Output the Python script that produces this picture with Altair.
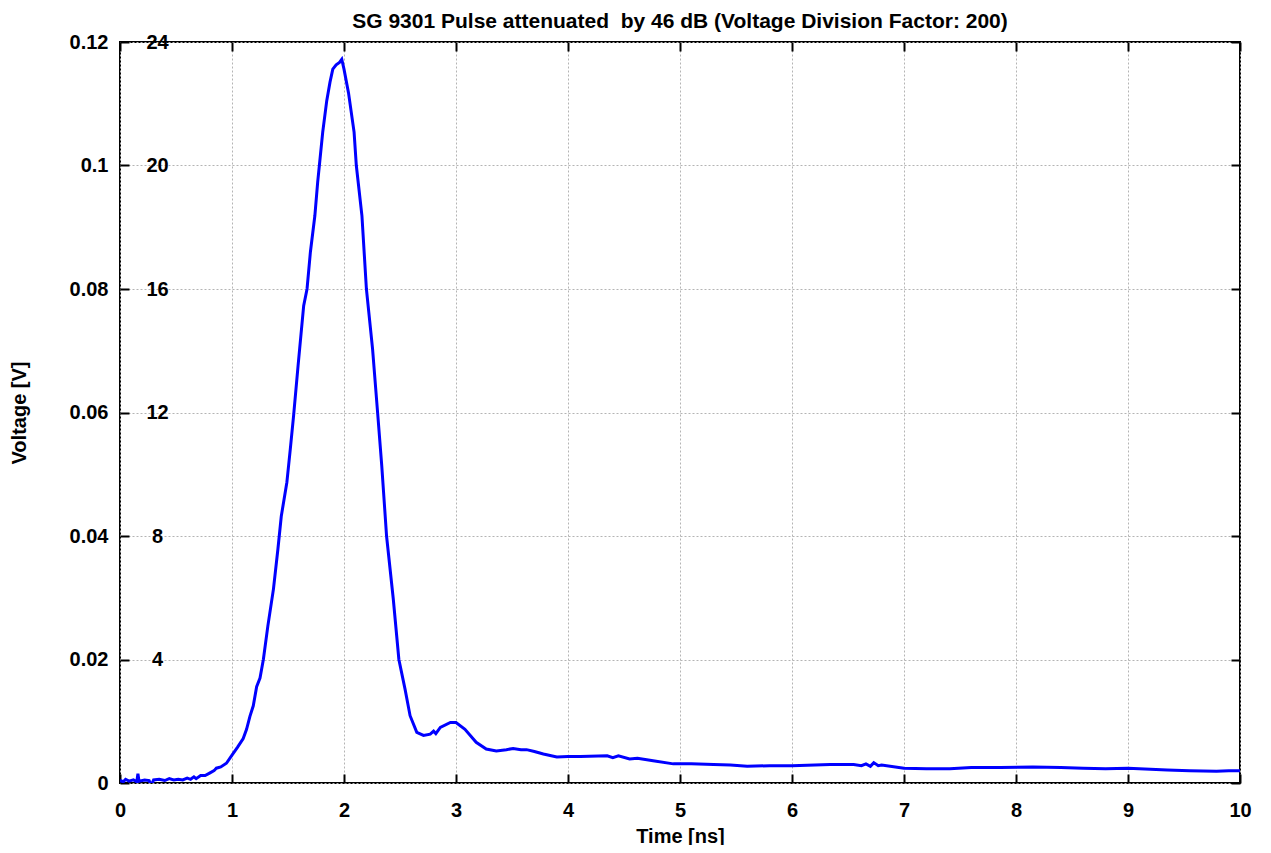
import altair as alt
import pandas as pd

# Time [ns]
time_ns = [0.00, 0.03, 0.05, 0.08, 0.12, 0.15, 0.16, 0.17, 0.22, 0.26, 0.28, 0.30, 0.35, 0.40,
           0.44, 0.48, 0.52, 0.56, 0.60, 0.63, 0.66, 0.68, 0.72, 0.76, 0.80, 0.84, 0.86, 0.90,
           0.95, 1.00, 1.05, 1.10, 1.13, 1.16, 1.19, 1.22, 1.25, 1.28, 1.32, 1.37, 1.41, 1.44,
           1.49, 1.52, 1.55, 1.59, 1.64, 1.67, 1.70, 1.74, 1.765, 1.78, 1.81, 1.846, 1.875,
           1.90, 1.93, 1.96, 1.98, 2.00, 2.04, 2.09, 2.11, 2.16, 2.20, 2.255, 2.30, 2.337,
           2.38, 2.44, 2.49, 2.545, 2.59, 2.65, 2.71, 2.77, 2.80, 2.82, 2.86, 2.95, 3.00,
           3.08, 3.18, 3.27, 3.36, 3.45, 3.51, 3.58, 3.63, 3.70, 3.78, 3.90, 4.00, 4.11,
           4.35, 4.40, 4.45, 4.55, 4.62, 4.76, 4.94, 5.10, 5.30, 5.45, 5.60, 5.80, 6.00,
           6.34, 6.55, 6.62, 6.66, 6.70, 6.73, 6.77, 6.80, 7.00, 7.20, 7.41, 7.60, 7.86,
           8.15, 8.40, 8.60, 8.80, 9.00, 9.10, 9.35, 9.55, 9.79, 9.90, 10.00]

# Voltage [V]
voltage_v = [0.0004, 0.0002, 0.0006, 0.0003, 0.0005, 0.0002, 0.0015, 0.0003, 0.0005, 0.0004,
             -0.0004, 0.0005, 0.0006, 0.0004, 0.0007, 0.0005, 0.0006, 0.0005, 0.0008, 0.0006,
             0.0010, 0.0007, 0.0012, 0.0012, 0.0016, 0.0020, 0.0024, 0.0026, 0.0032, 0.0045,
             0.0058, 0.0072, 0.0087, 0.0108, 0.0125, 0.0156, 0.0170, 0.0200, 0.0254, 0.0314,
             0.0379, 0.0432, 0.0487, 0.0540, 0.0595, 0.0676, 0.0773, 0.0800, 0.0860, 0.0919,
             0.0973, 0.1000, 0.1054, 0.1105, 0.1135, 0.1156, 0.1163, 0.1167, 0.1172, 0.1156,
             0.1118, 0.1054, 0.1000, 0.0919, 0.0800, 0.0703, 0.0600, 0.0514, 0.0400, 0.0298,
             0.0200, 0.0152, 0.0109, 0.0082, 0.0077, 0.0079, 0.0084, 0.0080, 0.0090, 0.0098,
             0.0098, 0.0087, 0.0066, 0.0055, 0.0052, 0.0054, 0.0056, 0.0054, 0.0054, 0.0051,
             0.0047, 0.0042, 0.0043, 0.0043, 0.0044, 0.0041, 0.0044, 0.0039, 0.0040, 0.0036,
             0.0031, 0.0031, 0.0030, 0.0029, 0.0027, 0.0028, 0.0028, 0.0030, 0.0030, 0.0028,
             0.0031, 0.0027, 0.0033, 0.0028, 0.0029, 0.0024, 0.0023, 0.0023, 0.0025, 0.0025,
             0.0026, 0.0025, 0.0024, 0.0023, 0.0024, 0.0023, 0.0021, 0.0020, 0.0019, 0.0020,
             0.0020]

x_ticks = [0, 1, 2, 3, 4, 5, 6, 7, 8, 9, 10]
y_ticks = [0, 0.02, 0.04, 0.06, 0.08, 0.1, 0.12]
y2_ticks = [0.02, 0.04, 0.06, 0.08, 0.1, 0.12]  # shown as 4..24 (x200)
division_factor = 200

df = pd.DataFrame({"t": time_ns, "v": voltage_v})

FONT = "Liberation Sans"
FS = 20
xscale = alt.Scale(domain=[0, 10], nice=False, zero=False)
yscale = alt.Scale(domain=[0, 0.12], nice=False, zero=False)

base = alt.Chart(df)

main = base.mark_line(color="#0000ff", strokeWidth=3, clip=True).encode(
    x=alt.X("t:Q", scale=xscale, title="Time [ns]",
            axis=alt.Axis(values=x_ticks, grid=True, gridDash=[2, 2], gridColor="#b4b4b4",
                          gridWidth=1, ticks=False, tickSize=0, domain=False,
                          labelFlush=False, labelOverlap=False,
                          labelPadding=17, labelFont=FONT, labelFontSize=FS,
                          labelFontWeight="bold", labelColor="black",
                          titleFont=FONT, titleFontSize=FS, titleFontWeight="bold",
                          titleColor="black", titlePadding=6)),
    y=alt.Y("v:Q", scale=yscale, title="Voltage [V]",
            axis=alt.Axis(values=y_ticks, labelExpr="format(datum.value, '.2~g')",
                          grid=True, gridDash=[2, 2], labelFlush=False, labelOverlap=False,
                          gridColor="#b4b4b4", gridWidth=1, ticks=False, tickSize=0,
                          domain=False, labelPadding=12, labelFont=FONT, labelFontSize=FS,
                          labelFontWeight="bold", labelColor="black",
                          titleFont=FONT, titleFontSize=FS, titleFontWeight="bold",
                          titleColor="black", titlePadding=40)),
)

tick_axis = dict(labels=False, grid=False, domain=False, ticks=True, tickSize=9,
                 tickWidth=2, tickColor="black", offset=-9, title=None)

ticks_bl = base.mark_line(opacity=0).encode(
    x=alt.X("t:Q", scale=xscale, axis=alt.Axis(values=x_ticks, orient="bottom", **tick_axis)),
    y=alt.Y("v:Q", scale=yscale, axis=alt.Axis(values=y_ticks, orient="left", **tick_axis)),
)

ticks_tr = base.mark_line(opacity=0).encode(
    x=alt.X("t:Q", scale=xscale, axis=alt.Axis(values=x_ticks, orient="top", **tick_axis)),
    y=alt.Y("v:Q", scale=yscale, axis=alt.Axis(values=y_ticks, orient="right", **tick_axis)),
)

inner = base.mark_line(opacity=0).encode(
    x=alt.X("t:Q", scale=xscale, axis=None),
    y=alt.Y("v:Q", scale=yscale,
            axis=alt.Axis(values=y2_ticks, orient="left", offset=-37, ticks=False, tickSize=0,
                          domain=False, grid=False, labelPadding=0, labelAlign="center",
                          labelFlush=False, labelOverlap=False,
                          labelExpr=f"format(datum.value * {division_factor}, 'd')",
                          labelFont=FONT, labelFontSize=FS, labelFontWeight="bold",
                          labelColor="black", title=None)),
)

chart = alt.layer(main, ticks_bl, ticks_tr, inner).resolve_axis(
    x="independent", y="independent"
).properties(
    width=1120, height=741,
    title=alt.TitleParams("SG 9301 Pulse attenuated \u00a0by 46 dB (Voltage Division Factor: 200)",
                          font=FONT, fontSize=21, fontWeight="bold", color="black",
                          anchor="middle", offset=0),
    autosize=alt.AutoSizeParams(type="none"),
    padding={"left": 112, "top": 34, "right": 20, "bottom": 62},
).configure_view(stroke="black", strokeWidth=2)

chart.save("out.html", embed_options={"renderer": "svg", "actions": False})
